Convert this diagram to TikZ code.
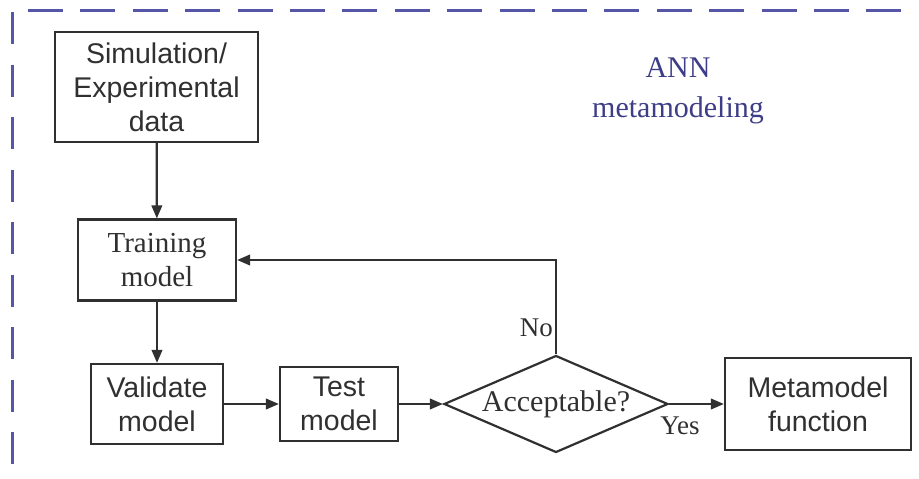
\documentclass[tikz,border=0pt]{standalone}
\usepackage{fontspec}
\setmainfont{Liberation Serif}
\newfontfamily\boxfont{Liberation Sans}
\usetikzlibrary{shapes.geometric,arrows.meta}

\definecolor{framecol}{HTML}{5656A8}
\definecolor{titlecol}{HTML}{3E3E88}
\definecolor{inkcol}{HTML}{303030}

\tikzset{
  sansbox/.style={draw=inkcol, line width=2.2pt, inner sep=0pt, align=center,
    text=inkcol, font=\boxfont\fontsize{28.5}{34}\selectfont},
  serifbox/.style={draw=inkcol, line width=2.2pt, inner sep=0pt, align=center,
    text=inkcol, font=\fontsize{29}{34}\selectfont},
  decision/.style={draw=inkcol, line width=2.2pt, shape=diamond, aspect=2.3,
    inner sep=0pt, text=inkcol, font=\fontsize{30}{34}\selectfont},
  flow/.style={draw=inkcol, line width=2.2pt, -{Triangle[length=13pt,width=10.5pt]}},
  edgelabel/.style={text=inkcol, inner sep=0pt, font=\fontsize{27}{32}\selectfont},
  frameline/.style={draw=framecol, line cap=butt}
}

\begin{document}
\begin{tikzpicture}[x=1pt, y=-1pt]
  \useasboundingbox[fill=white] (0,0) rectangle (919,479);

  % dashed frame of the metamodeling block
  \draw[frameline, line width=3.6pt, dash pattern=on 35pt off 17.4pt] (28,10.5) -- (919,10.5);
  \draw[frameline, line width=2.6pt, dash pattern=on 32pt off 20.5pt] (12.5,12) -- (12.5,467);

  % block title
  \node[text=titlecol, align=center, font=\fontsize{30}{40}\selectfont] (title) at (678,91)
    {ANN\\metamodeling};

  % process steps
  \node[sansbox, minimum width=203pt, minimum height=110pt] (data) at (156.5,87)
    {Simulation/\\Experimental\\data};
  \node[serifbox, minimum width=158pt, minimum height=81pt] (train) at (157,260)
    {Training\\model};
  \node[sansbox, minimum width=132pt, minimum height=80pt] (valid) at (157,404)
    {Validate\\model};
  \node[sansbox, minimum width=118pt, minimum height=74pt] (test) at (339,404)
    {Test\\model};
  \node[decision, minimum width=224pt, minimum height=97pt] (accept) at (556,404)
    {Acceptable?};
  \node[sansbox, minimum width=186pt, minimum height=92pt] (meta) at (818,404)
    {Metamodel\\function};

  % connectors
  \draw[flow] (data) -- (train);
  \draw[flow] (train) -- (valid);
  \draw[flow] (valid) -- (test);
  \draw[flow] (test) -- (accept);
  \draw[flow] (accept) -- (meta);
  \draw[flow] (accept.north) |- (train.east);

  % branch labels
  \node[edgelabel, anchor=base east] (no) at ([xshift=-3pt, yshift=18pt]accept.north) {No};
  \node[edgelabel, anchor=base west] (yes) at ([xshift=-9pt, yshift=-30pt]accept.east) {Yes};
\end{tikzpicture}
\end{document}
